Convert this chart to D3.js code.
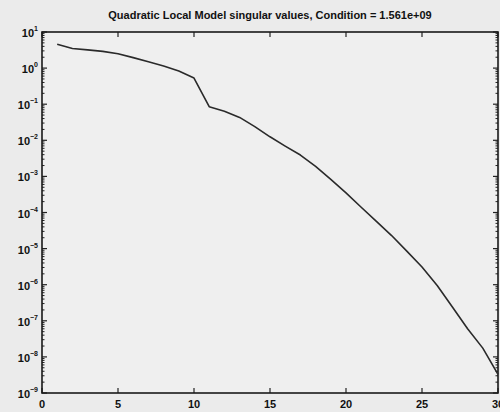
<!DOCTYPE html>
<html>
<head>
	<title>Quadratic Local Model singular values</title>
	<style type="text/css">
		body {
			margin: 0;
			background: #ebebeb;
		}
		text {
			font-family: "Liberation Sans", Arial, sans-serif;
			fill: #111;
		}
	</style>
</head>
<body>
<svg id="chart"></svg>

<script src="https://d3js.org/d3.v7.min.js"></script>
<script type="text/javascript">

	var titleText = "Quadratic Local Model singular values, Condition = 1.561e+09";

	// index of singular value, and the value
	var idx = [1, 2, 3, 4, 5, 6, 7, 8, 9, 10,
	           11, 12, 13, 14, 15, 16, 17, 18, 19, 20,
	           21, 22, 23, 24, 25, 26, 27, 28, 29, 30];
	var sv = [4.6, 3.5, 3.2, 2.9, 2.5, 1.95, 1.5, 1.15, 0.83, 0.53,
	          0.085, 0.064, 0.043, 0.024, 0.0125, 0.0069, 0.0039, 0.0019, 8.3e-4, 3.5e-4,
	          1.4e-4, 5.7e-5, 2.3e-5, 8.5e-6, 3.1e-6, 9.5e-7, 2.4e-7, 6.0e-8, 1.75e-8, 3.3e-9];

	var xTicks = [0, 5, 10, 15, 20, 25, 30];
	var yExps = [1, 0, -1, -2, -3, -4, -5, -6, -7, -8, -9];

	var W = 500, H = 412;
	var margin = {top: 32, right: 2, bottom: 19, left: 42};
	var width = W - margin.left - margin.right,
	    height = H - margin.top - margin.bottom;

	var svg = d3.select("#chart")
		.attr("width", W)
		.attr("height", H);

	svg.append("rect").attr("width", W).attr("height", H).attr("fill", "#ebebeb");

	var vis = svg.append("g")
		.attr("transform", "translate(" + margin.left + "," + margin.top + ")");

	vis.append("rect")
		.attr("width", width).attr("height", height)
		.attr("fill", "#efefef");

	var x = d3.scaleLinear().domain([0, 30]).range([0, width]);
	var y = d3.scaleLog().domain([1e-9, 10]).range([height, 0]);

	// minor log ticks (2..9 per decade)
	var minor = [];
	yExps.slice(1).forEach(function(e) {
		for (var m = 2; m <= 9; m++) minor.push(m * Math.pow(10, e));
	});

	[0, width].forEach(function(x0, i) {
		var dir = i === 0 ? 1 : -1;
		vis.append("g").selectAll("line.minor")
			.data(minor).enter().append("line")
			.attr("x1", x0).attr("x2", x0 + dir * 2.5)
			.attr("y1", d => y(d)).attr("y2", d => y(d))
			.attr("stroke", "#222").attr("stroke-width", 1);
		vis.append("g").selectAll("line.major")
			.data(yExps).enter().append("line")
			.attr("x1", x0).attr("x2", x0 + dir * 5)
			.attr("y1", d => y(Math.pow(10, d))).attr("y2", d => y(Math.pow(10, d)))
			.attr("stroke", "#222").attr("stroke-width", 1.2);
	});

	[0, height].forEach(function(y0, i) {
		var dir = i === 0 ? 1 : -1;
		vis.append("g").selectAll("line")
			.data(xTicks).enter().append("line")
			.attr("x1", d => x(d)).attr("x2", d => x(d))
			.attr("y1", y0).attr("y2", y0 + dir * 5)
			.attr("stroke", "#222").attr("stroke-width", 1.2);
	});

	// frame
	vis.append("rect")
		.attr("width", width).attr("height", height)
		.attr("fill", "none").attr("stroke", "#1a1a1a").attr("stroke-width", 1.6);

	// x labels
	vis.append("g").selectAll("text")
		.data(xTicks).enter().append("text")
		.attr("x", d => x(d)).attr("y", height + 15)
		.attr("text-anchor", "middle")
		.style("font-size", "11px").style("font-weight", "bold")
		.text(d => d);

	// y labels 10^e
	var yl = vis.append("g").selectAll("text")
		.data(yExps).enter().append("text")
		.attr("x", -4).attr("y", d => y(Math.pow(10, d)) + 5)
		.attr("text-anchor", "end")
		.style("font-size", "11px").style("font-weight", "bold");
	yl.append("tspan").text("10");
	yl.append("tspan")
		.attr("dy", -6).style("font-size", "7px")
		.text(d => d < 0 ? "\u2212" + (-d) : d);

	var line = d3.line()
		.x((d, i) => x(idx[i]))
		.y(d => y(d));

	vis.append("path")
		.datum(sv)
		.attr("d", line)
		.attr("fill", "none")
		.attr("stroke", "#2a2a2a")
		.attr("stroke-width", 1.6)
		.attr("stroke-linejoin", "round");

	svg.append("text")
		.attr("x", margin.left + width / 2).attr("y", 19)
		.attr("text-anchor", "middle")
		.style("font-size", "11px").style("font-weight", "bold")
		.text(titleText);

</script>
</body>
</html>
